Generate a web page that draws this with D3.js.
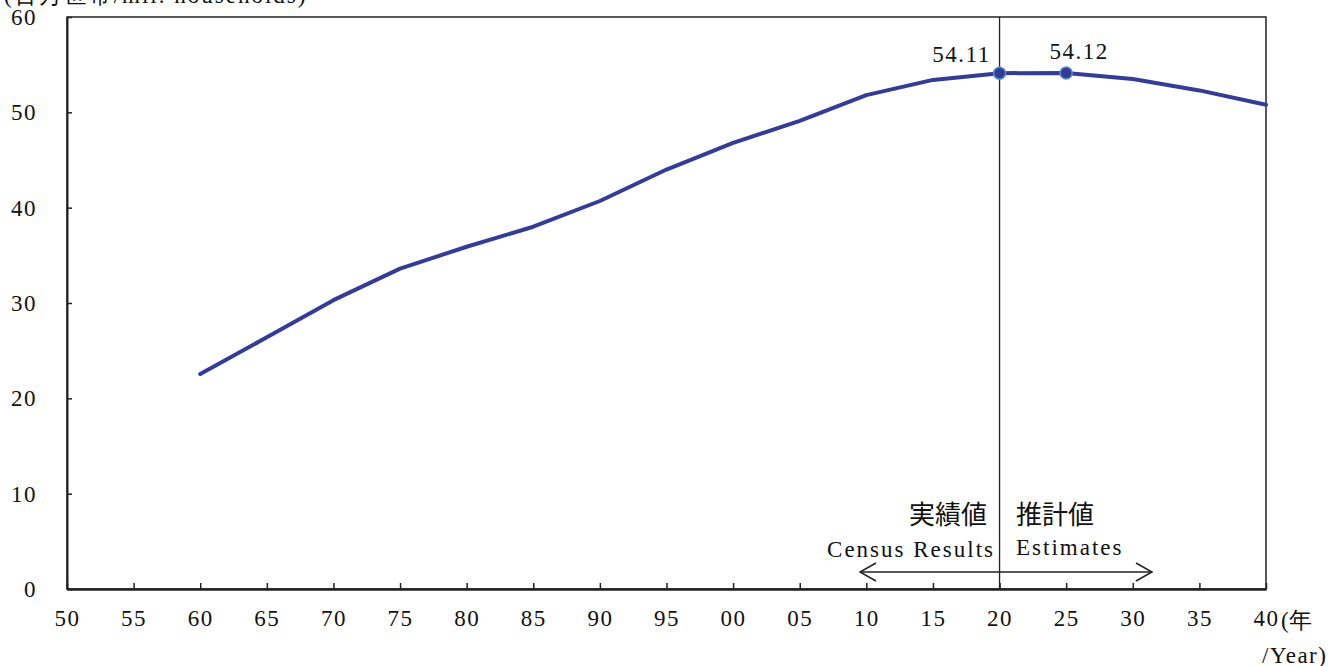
<!DOCTYPE html>
<html><head><meta charset="utf-8">
<script src="https://cdn.jsdelivr.net/npm/d3@7"></script>
<style>body{margin:0;background:#fff;}svg{display:block;}</style>
</head><body>
<svg id="c" width="1335" height="666"></svg>
<script>
const years = [1960,1965,1970,1975,1980,1985,1990,1995,2000,2005,2010,2015,2020,2025,2030,2035,2040];
const households = [22.54,26.4,30.3,33.6,35.9,38.0,40.7,44.0,46.8,49.1,51.8,53.4,54.11,54.12,53.5,52.3,50.8];
const xTicks = [1950,1955,1960,1965,1970,1975,1980,1985,1990,1995,2000,2005,2010,2015,2020,2025,2030,2035,2040];
const yTicks = [0,10,20,30,40,50,60];
const labeled = [2020,2025];
const labelTexts = ["54.11","54.12"];

const svg = d3.select("#c");
const L=67,R=1266,T=17,B=589;
const x = d3.scaleLinear().domain([1950,2040]).range([L,R]);
const y = d3.scaleLinear().domain([0,60]).range([B,T]);
const numFont = "'Liberation Serif','DejaVu Serif',serif";
const cjkFont = "'Noto Sans CJK JP','Noto Sans CJK SC',sans-serif";
const LS = 1.5;

// frame
svg.append("rect").attr("x",L).attr("y",T).attr("width",R-L).attr("height",B-T)
  .attr("fill","none").attr("stroke","#222").attr("stroke-width",1.5);

// x axis
const xa = svg.append("g").attr("transform",`translate(0,${B})`)
  .call(d3.axisBottom(x).tickValues(xTicks).tickSizeInner(-6).tickSizeOuter(0)
    .tickPadding(21).tickFormat(d=>String(d%100).padStart(2,"0")));
xa.select(".domain").attr("stroke","#222").attr("stroke-width",2.5);
xa.selectAll(".tick line").attr("stroke","#222").attr("stroke-width",1.5);
xa.selectAll("text").attr("font-family",numFont).attr("font-size",23).attr("fill","#111")
  .attr("letter-spacing",LS);

// y axis
const ya = svg.append("g").attr("transform",`translate(${L},0)`)
  .call(d3.axisLeft(y).tickValues(yTicks).tickSizeInner(-5).tickSizeOuter(0).tickPadding(30));
ya.select(".domain").attr("stroke","#222").attr("stroke-width",2);
ya.selectAll(".tick line").attr("stroke","#222").attr("stroke-width",1.5);
ya.selectAll("text").attr("font-family",numFont).attr("font-size",23).attr("fill","#111")
  .attr("letter-spacing",LS);

// unit labels
svg.append("text").attr("x",4).attr("y",3).attr("font-family",numFont).attr("font-size",23)
  .attr("letter-spacing",2).attr("fill","#111").text("(百万世帯/mil. households)");
svg.append("text").attr("x",x(2040)+15).attr("y",628).attr("font-family",numFont).attr("font-size",23)
  .attr("fill","#111").text("(年");
svg.append("text").attr("x",1262).attr("y",663).attr("font-family",numFont).attr("font-size",23)
  .attr("letter-spacing",LS).attr("fill","#111").text("/Year)");

// vertical divider
svg.append("line").attr("x1",x(2020)).attr("x2",x(2020)).attr("y1",T).attr("y2",B)
  .attr("stroke","#222").attr("stroke-width",1.3);

// line
const data = years.map((d,i)=>({yr:d,v:households[i]}));
svg.append("path").datum(data)
  .attr("d",d3.line().x(d=>x(d.yr)).y(d=>y(d.v)))
  .attr("fill","none").attr("stroke","#343c96").attr("stroke-width",4)
  .attr("stroke-linecap","round").attr("stroke-linejoin","round");

// markers & labels
labeled.forEach((yr,i)=>{
  const v = households[years.indexOf(yr)];
  svg.append("circle").attr("cx",x(yr)).attr("cy",y(v)).attr("r",6)
    .attr("fill","#2f3c92").attr("stroke","#5b8cc8").attr("stroke-width",1.5);
});
svg.append("text").attr("x",x(2020)-38).attr("y",62).attr("text-anchor","middle")
  .attr("font-family",numFont).attr("font-size",23).attr("letter-spacing",LS).attr("fill","#111").text(labelTexts[0]);
svg.append("text").attr("x",x(2025)+13).attr("y",59).attr("text-anchor","middle")
  .attr("font-family",numFont).attr("font-size",23).attr("letter-spacing",LS).attr("fill","#111").text(labelTexts[1]);

// annotation
svg.append("text").attr("x",987).attr("y",524).attr("text-anchor","end")
  .attr("font-family",cjkFont).attr("font-size",26).attr("fill","#111").text("実績値");
svg.append("text").attr("x",1016).attr("y",524).attr("text-anchor","start")
  .attr("font-family",cjkFont).attr("font-size",26).attr("fill","#111").text("推計値");
svg.append("text").attr("x",995).attr("y",557).attr("text-anchor","end")
  .attr("font-family",numFont).attr("font-size",23).attr("letter-spacing",2).attr("fill","#111").text("Census Results");
svg.append("text").attr("x",1016).attr("y",555).attr("text-anchor","start")
  .attr("font-family",numFont).attr("font-size",23).attr("letter-spacing",2).attr("fill","#111").text("Estimates");

const ay = 572, ax1 = 860, ax2 = 1152;
const ag = svg.append("g").attr("stroke","#222").attr("stroke-width",1.5).attr("fill","none");
ag.append("line").attr("x1",ax1).attr("x2",ax2).attr("y1",ay).attr("y2",ay);
ag.append("path").attr("d",`M${ax1+16},${ay-9}L${ax1},${ay}L${ax1+16},${ay+9}`);
ag.append("path").attr("d",`M${ax2-16},${ay-9}L${ax2},${ay}L${ax2-16},${ay+9}`);
</script>
</body></html>
